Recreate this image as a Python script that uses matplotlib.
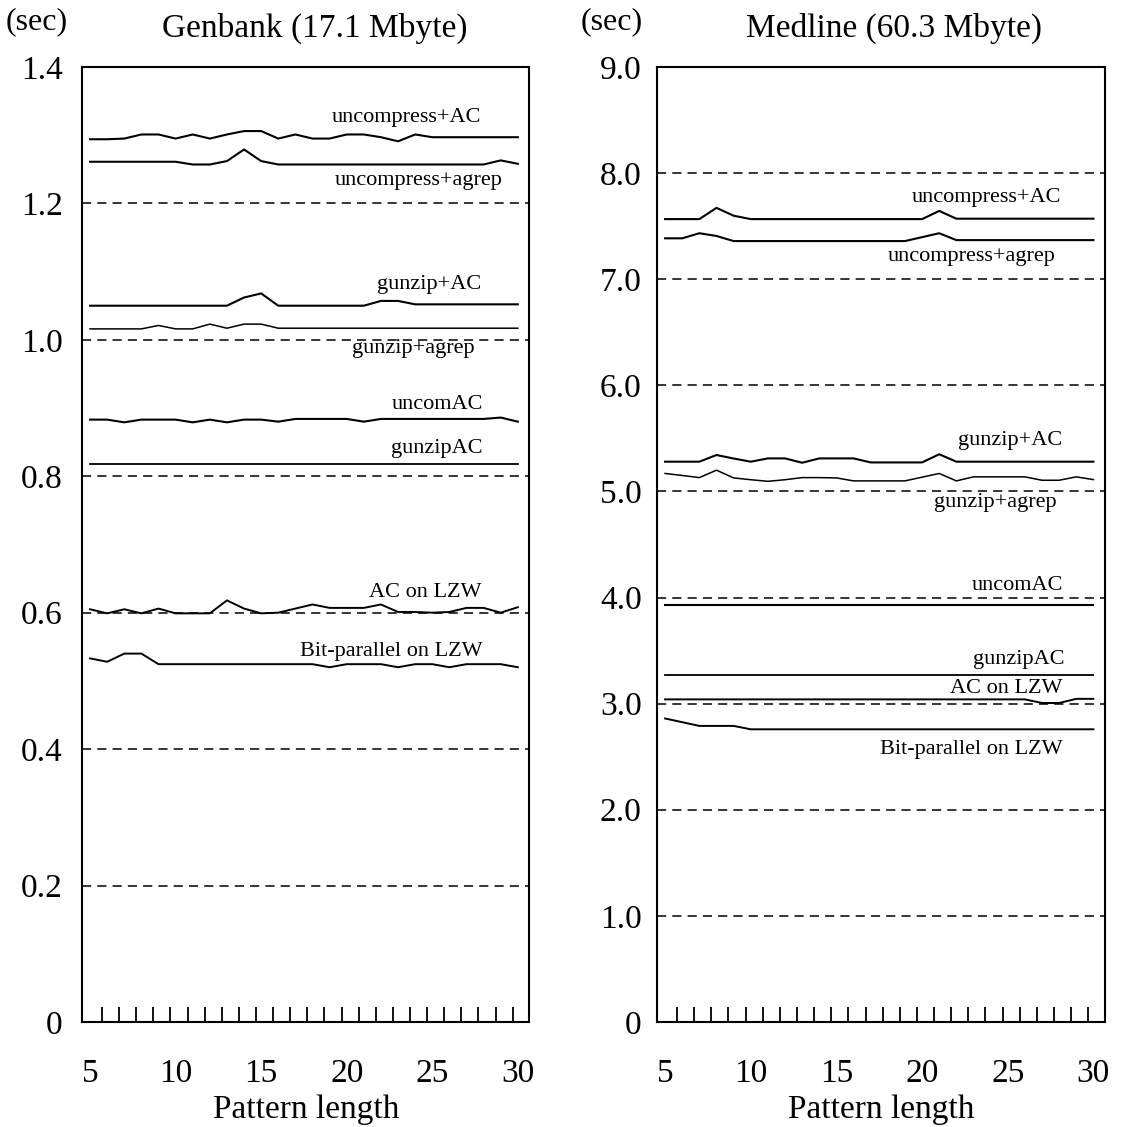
import numpy as np
import matplotlib
matplotlib.use("Agg")
import matplotlib.pyplot as plt

plt.rcParams["font.family"] = ["Liberation Serif", "DejaVu Serif"]

# pattern lengths
lengths = list(range(5, 31))

# Genbank (17.1 Mbyte), seconds
gen_unc_ac = [1.294, 1.294, 1.295, 1.301, 1.301, 1.295, 1.301, 1.295, 1.301, 1.306,
              1.306, 1.295, 1.301, 1.295, 1.295, 1.301, 1.301, 1.297, 1.291, 1.301,
              1.297, 1.297, 1.297, 1.297, 1.297, 1.297]
gen_unc_agrep = [1.261, 1.261, 1.261, 1.261, 1.261, 1.261, 1.257, 1.257, 1.262, 1.279,
                 1.262, 1.257, 1.257, 1.257, 1.257, 1.257, 1.257, 1.257, 1.257, 1.257,
                 1.257, 1.257, 1.257, 1.257, 1.263, 1.258]
gen_gz_ac = [1.050, 1.050, 1.050, 1.050, 1.050, 1.050, 1.050, 1.050, 1.050, 1.062,
             1.068, 1.050, 1.050, 1.050, 1.050, 1.050, 1.050, 1.057, 1.057, 1.052,
             1.052, 1.052, 1.052, 1.052, 1.052, 1.052]
gen_gz_agrep = [1.016, 1.016, 1.016, 1.016, 1.021, 1.016, 1.016, 1.023, 1.017, 1.023,
                1.023, 1.017, 1.017, 1.017, 1.017, 1.017, 1.017, 1.017, 1.017, 1.017,
                1.017, 1.017, 1.017, 1.017, 1.017, 1.017]
gen_uncomac = [0.883, 0.883, 0.879, 0.883, 0.883, 0.883, 0.879, 0.883, 0.879, 0.883,
               0.883, 0.880, 0.884, 0.884, 0.884, 0.884, 0.880, 0.884, 0.884, 0.884,
               0.884, 0.884, 0.884, 0.884, 0.886, 0.880]
gen_gzipac = [0.818] * 26
gen_ac_lzw = [0.605, 0.599, 0.605, 0.599, 0.606, 0.599, 0.599, 0.599, 0.618, 0.606,
              0.599, 0.600, 0.606, 0.612, 0.607, 0.607, 0.607, 0.612, 0.601, 0.601,
              0.600, 0.601, 0.607, 0.607, 0.600, 0.608]
gen_bp_lzw = [0.533, 0.528, 0.540, 0.540, 0.5245, 0.5245, 0.5245, 0.5245, 0.5245, 0.5245,
              0.5245, 0.5245, 0.5245, 0.5245, 0.520, 0.5245, 0.5245, 0.5245, 0.520, 0.5245,
              0.5245, 0.520, 0.5245, 0.5245, 0.5245, 0.520]

# Medline (60.3 Mbyte), seconds
med_unc_ac = [7.566, 7.566, 7.566, 7.672, 7.598, 7.566, 7.566, 7.566, 7.566, 7.566,
              7.566, 7.566, 7.566, 7.566, 7.566, 7.566, 7.643, 7.570, 7.570, 7.570,
              7.570, 7.570, 7.570, 7.570, 7.570, 7.570]
med_unc_agrep = [7.385, 7.385, 7.433, 7.407, 7.359, 7.359, 7.359, 7.359, 7.359, 7.359,
                 7.359, 7.359, 7.359, 7.359, 7.359, 7.396, 7.433, 7.368, 7.368, 7.368,
                 7.368, 7.368, 7.368, 7.368, 7.368, 7.368]
med_gz_ac = [5.280, 5.280, 5.280, 5.343, 5.310, 5.280, 5.311, 5.311, 5.270, 5.311,
             5.311, 5.311, 5.273, 5.273, 5.273, 5.273, 5.350, 5.280, 5.280, 5.280,
             5.280, 5.280, 5.280, 5.280, 5.280, 5.280]
med_gz_agrep = [5.169, 5.150, 5.130, 5.200, 5.127, 5.110, 5.095, 5.110, 5.130, 5.130,
                5.127, 5.099, 5.099, 5.099, 5.099, 5.134, 5.169, 5.099, 5.137, 5.137,
                5.137, 5.137, 5.105, 5.105, 5.137, 5.111]
med_uncomac = [3.931] * 26
med_gzipac = [3.272] * 26
med_ac_lzw = [3.040] * 22 + [3.006, 3.006, 3.045, 3.045]
med_bp_lzw = [2.860, 2.825, 2.790, 2.790, 2.790] + [2.758] * 21

series_names = ["uncompress+AC", "uncompress+agrep", "gunzip+AC", "gunzip+agrep",
                "uncomAC", "gunzipAC", "AC on LZW", "Bit-parallel on LZW"]
gen_series = [gen_unc_ac, gen_unc_agrep, gen_gz_ac, gen_gz_agrep,
              gen_uncomac, gen_gzipac, gen_ac_lzw, gen_bp_lzw]
med_series = [med_unc_ac, med_unc_agrep, med_gz_ac, med_gz_agrep,
              med_uncomac, med_gzipac, med_ac_lzw, med_bp_lzw]

gen_ticks = [0, 0.2, 0.4, 0.6, 0.8, 1.0, 1.2, 1.4]
gen_ticklabels = ["0", "0.2", "0.4", "0.6", "0.8", "1.0", "1.2", "1.4"]
med_ticks = [0, 1, 2, 3, 4, 5, 6, 7, 8, 9]
med_ticklabels = ["0", "1.0", "2.0", "3.0", "4.0", "5.0", "6.0", "7.0", "8.0", "9.0"]

# label placement (right edge x, centre y) for each curve
gen_label_pos = [(27.84, 1.326), (29.12, 1.234), (27.84, 1.081), (27.49, 0.987),
                 (27.96, 0.905), (27.96, 0.841), (27.9, 0.629), (27.96, 0.543)]
med_label_pos = [(28.13, 7.774), (27.78, 7.217), (28.19, 5.48), (27.84, 4.896),
                 (28.25, 4.113), (28.3, 3.42), (28.19, 3.14), (28.19, 2.566)]
line_widths = [1.5, 1.5, 1.5, 1.1, 1.5, 1.3, 1.4, 1.4]

fig = plt.figure(figsize=(11.22, 11.27), dpi=100)
ax1 = fig.add_axes([0.0731, 0.0932, 0.3988, 0.8474])
ax2 = fig.add_axes([0.5856, 0.0932, 0.3993, 0.8474])


def draw_panel(ax, series, ticks, ticklabels, label_pos, title, ypad, title_x):
    for g in ticks[1:-1]:
        ax.axhline(g, color="black", lw=1.1, ls=(0, (6, 4)), zorder=1)
    for vals, name, (lx, ly), lw in zip(series, series_names, label_pos, line_widths):
        ax.plot(lengths, vals, color="black", lw=lw, zorder=2)
        ax.text(lx, ly, name, ha="right", va="center", fontsize=16)
    ax.set_xlim(4.53, 30.68)
    ax.set_ylim(ticks[0], ticks[-1])
    ax.set_yticks(ticks)
    ax.set_yticklabels(ticklabels)
    ax.set_xticks([5, 10, 15, 20, 25, 30])
    ax.set_xticks(np.arange(5, 30) + 0.7, minor=True)
    ax.tick_params(axis="x", which="major", length=0, pad=26, labelsize=24)
    ax.tick_params(axis="x", which="minor", direction="in", length=11, width=1.3)
    ax.tick_params(axis="y", length=0, pad=ypad, labelsize=24)
    for s in ax.spines.values():
        s.set_linewidth(1.5)
    ax.set_xlabel("Pattern length", fontsize=24, labelpad=4)
    ax.set_title(title, fontsize=24, pad=22, x=title_x)


draw_panel(ax1, gen_series, gen_ticks, gen_ticklabels, gen_label_pos,
           "Genbank (17.1 Mbyte)", 14, 0.52)
draw_panel(ax2, med_series, med_ticks, med_ticklabels, med_label_pos,
           "Medline (60.3 Mbyte)", 11, 0.53)

fig.text(37 / 1122, 1 - 22 / 1127, "(sec)", ha="center", va="center", fontsize=23)
fig.text(612 / 1122, 1 - 22 / 1127, "(sec)", ha="center", va="center", fontsize=23)

fig.savefig("out.png", dpi=100)
